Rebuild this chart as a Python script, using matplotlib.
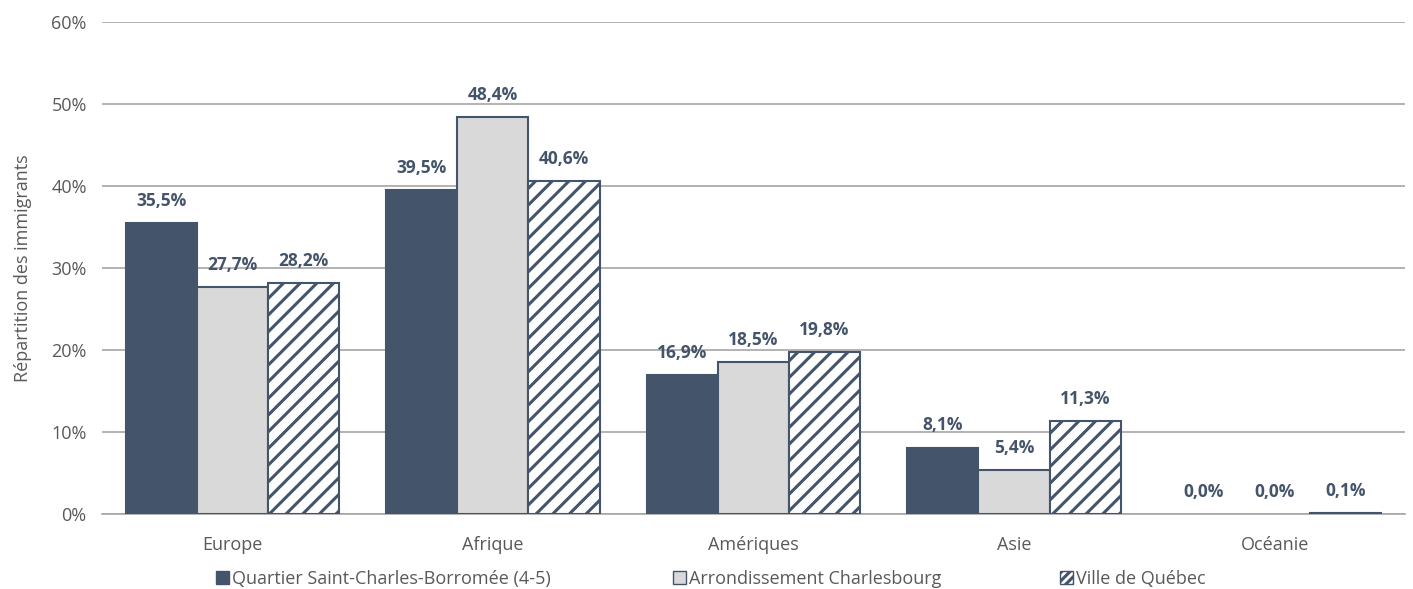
import numpy as np
import matplotlib.pyplot as plt
from matplotlib.patches import Patch

plt.rcParams['font.family'] = ['Open Sans', 'DejaVu Sans']
plt.rcParams['hatch.linewidth'] = 2.2
plt.rcParams['hatch.color'] = '#44546A'

regions = ['Europe', 'Afrique', 'Amériques', 'Asie', 'Océanie']
quartier = [35.5, 39.5, 16.9, 8.1, 0.0]
arrondissement = [27.7, 48.4, 18.5, 5.4, 0.0]
ville = [28.2, 40.6, 19.8, 11.3, 0.1]
series_names = ['Quartier Saint-Charles-Borromée (4-5)',
                'Arrondissement Charlesbourg', 'Ville de Québec']

dark = '#44546A'
W, H = 1413, 589
fig = plt.figure(figsize=(W / 100, H / 100), dpi=100)
ax = fig.add_axes([0.0722, 0.1273, 0.9221, 0.8353])

x = np.arange(len(regions))
w = 0.273
def lw(vals):
    return [1.5 if v > 0 else 0 for v in vals]
b1 = ax.bar(x - w, quartier, w, color=dark, edgecolor=dark, linewidth=lw(quartier), zorder=3)
b2 = ax.bar(x, arrondissement, w, color='#D9D9D9', edgecolor=dark,
            linewidth=lw(arrondissement), zorder=3)
b3 = ax.bar(x + w, ville, w, color='white', edgecolor=dark, linewidth=lw(ville),
            hatch='//', zorder=3)

for bars, vals in [(b1, quartier), (b2, arrondissement), (b3, ville)]:
    for r, v in zip(bars, vals):
        ax.text(r.get_x() + r.get_width() / 2, v + 1.6,
                f'{v:.1f}%'.replace('.', ','), ha='center', va='bottom',
                fontsize=12.5, fontweight='bold', color=dark, zorder=4)

ax.set_ylim(0, 60)
ax.set_xlim(-0.5, 4.5)
ax.set_yticks(range(0, 61, 10))
ax.set_yticklabels([f'{t}%' for t in range(0, 61, 10)])
ax.yaxis.grid(True, color='#A6A6A6', linewidth=1.2, zorder=0)
ax.set_xticks(x)
ax.set_xticklabels(regions)
ax.tick_params(axis='y', length=0, labelsize=13, colors='#595959', pad=11)
ax.tick_params(axis='x', length=0, labelsize=13, colors='#595959', pad=16)
for s in ['top', 'right', 'left']:
    ax.spines[s].set_visible(False)
ax.spines['bottom'].set_color('#A6A6A6')
ax.spines['bottom'].set_linewidth(1.2)
ax.set_ylabel('Répartition des immigrants', fontsize=13, color='#595959', labelpad=14)

handles = [Patch(facecolor=dark, edgecolor=dark),
           Patch(facecolor='#D9D9D9', edgecolor=dark),
           Patch(facecolor='white', edgecolor=dark, hatch='////')]
# one legend entry per series, placed where the reference puts each marker
marker_x = [216, 673, 1060]
for h, name, mx in zip(handles, series_names, marker_x):
    fig.legend([h], [name], loc='center left',
               bbox_to_anchor=(mx / W, 1 - 579 / H), frameon=False, fontsize=13,
               handlelength=0.7, handleheight=0.7, handletextpad=0.2,
               borderpad=0, borderaxespad=0, labelcolor='#595959')

fig.savefig('out.png', dpi=100)
